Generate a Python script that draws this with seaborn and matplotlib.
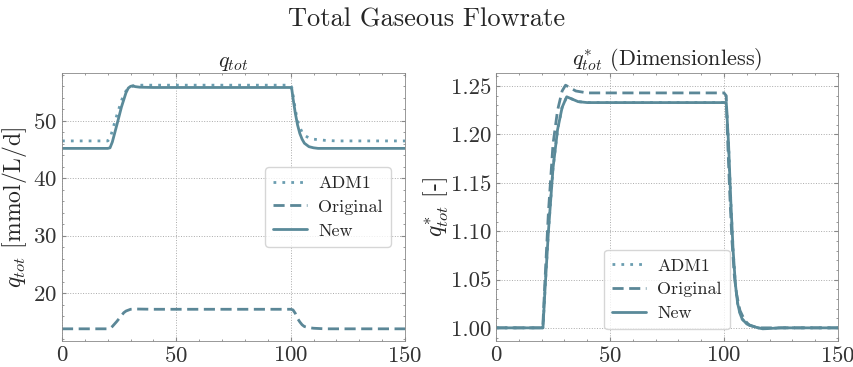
import numpy as np
import pandas as pd
import matplotlib
matplotlib.use("Agg")
import matplotlib.pyplot as plt
from matplotlib.ticker import AutoMinorLocator
import seaborn as sns

# ---------------- data ----------------
t_adm1 = [0, 20, 21, 22, 24, 26, 27, 28, 30, 32, 35, 40, 60, 100, 100.5, 101, 102, 103, 104, 105, 106, 108, 110, 115, 120, 150]
q_adm1 = [46.5, 46.5, 46.9, 48.3, 51.0, 53.5, 54.5, 55.2, 55.9, 56.15, 56.2, 56.2, 56.2, 56.2, 55.8, 54.6, 52.0, 50.0, 48.9, 48.0, 47.5, 47.0, 46.8, 46.6, 46.5, 46.5]

t_new = [0, 20, 21, 22, 24, 26, 28, 29, 30, 31, 32, 34, 40, 60, 100, 100.5, 101, 102, 103, 104, 105, 106, 108, 110, 112, 115, 120, 150]
q_new = [45.2, 45.2, 45.3, 46.3, 49.3, 52.4, 54.9, 55.7, 56.0, 56.1, 55.95, 55.85, 55.8, 55.8, 55.8, 55.5, 54.0, 51.4, 49.3, 47.8, 46.8, 46.1, 45.5, 45.3, 45.2, 45.2, 45.2, 45.2]

t_orig = [0, 20, 21, 22, 24, 26, 27, 28, 30, 32, 40, 60, 100, 101, 102, 103, 104, 105, 106, 108, 110, 115, 150]
q_orig = [13.8, 13.8, 13.85, 14.2, 15.1, 16.1, 16.6, 16.9, 17.2, 17.25, 17.2, 17.2, 17.2, 17.1, 16.5, 15.6, 15.0, 14.5, 14.2, 14.0, 13.9, 13.8, 13.8]

ts_new = [0, 20, 20.6, 21.5, 23, 25, 27, 29, 31, 33, 36, 40, 60, 100, 101, 102, 103, 104, 105, 106, 107, 108, 110, 112, 115, 117, 125, 150]
qs_new = [1.0, 1.0, 1.0, 1.04, 1.10, 1.165, 1.205, 1.228, 1.239, 1.237, 1.234, 1.233, 1.233, 1.233, 1.233, 1.19, 1.13, 1.08, 1.045, 1.025, 1.015, 1.009, 1.004, 1.002, 1.0, 0.999, 1.0, 1.0]

ts_adm1 = list(ts_new)
qs_adm1 = list(qs_new)

ts_orig = [0, 20, 20.5, 21.5, 23, 25, 27, 29, 30.5, 32, 35, 40, 60, 100, 101, 101.5, 102.5, 103.5, 104.5, 105.5, 107, 109, 111, 115, 150]
qs_orig = [1.0, 1.0, 1.0, 1.05, 1.12, 1.19, 1.225, 1.245, 1.251, 1.249, 1.245, 1.243, 1.243, 1.243, 1.24, 1.2, 1.14, 1.09, 1.055, 1.035, 1.018, 1.008, 1.003, 1.0, 1.0]

series_names = ["ADM1", "Original", "New"]
colors = {"ADM1": "#6a9db0", "Original": "#5b8797", "New": "#5a8a99"}
dashes = {"ADM1": (1, 2.2), "Original": (4, 2), "New": ""}

# ---------------- style ----------------
sns.set_style("ticks")
plt.rcParams.update({
    "font.family": ["cmr10", "DejaVu Serif"],
    "mathtext.fontset": "cm",
    "axes.formatter.use_mathtext": True,
    "axes.unicode_minus": False,
    "xtick.direction": "in",
    "ytick.direction": "in",
    "xtick.top": True,
    "ytick.right": True,
    "xtick.minor.visible": True,
    "ytick.minor.visible": True,
    "xtick.major.size": 3,
    "ytick.major.size": 3,
    "xtick.minor.size": 1.5,
    "ytick.minor.size": 1.5,
    "axes.edgecolor": "#888888",
    "axes.linewidth": 0.6,
    "xtick.color": "#888888",
    "ytick.color": "#888888",
    "xtick.labelcolor": "#333333",
    "ytick.labelcolor": "#333333",
})


def make_df(ta, qa, to, qo, tn, qn):
    frames = []
    for name, t, q in (("ADM1", ta, qa), ("Original", to, qo), ("New", tn, qn)):
        frames.append(pd.DataFrame({"t": t, "q": q, "Model": name}))
    return pd.concat(frames, ignore_index=True)


df_left = make_df(t_adm1, q_adm1, t_orig, q_orig, t_new, q_new)
df_right = make_df(ts_adm1, qs_adm1, ts_orig, qs_orig, ts_new, qs_new)

fig = plt.figure(figsize=(8.54, 3.67), dpi=100)
W, H = 854, 367
ax1 = fig.add_axes([62 / W, 1 - 341 / H, (405 - 62) / W, (341 - 73) / H])
ax2 = fig.add_axes([496 / W, 1 - 341 / H, (838 - 496) / W, (341 - 73) / H])

for ax, df in ((ax1, df_left), (ax2, df_right)):
    sns.lineplot(data=df, x="t", y="q", hue="Model", style="Model",
                 hue_order=series_names, style_order=series_names,
                 palette=colors, dashes=dashes, linewidth=2.0,
                 estimator=None, sort=False, ax=ax)
    ax.set_xlim(0, 150)
    ax.set_xticks([0, 50, 100, 150])
    ax.xaxis.set_minor_locator(AutoMinorLocator(5))
    ax.grid(True, which="major", color="#aaaaaa", linestyle=":", linewidth=0.7)
    ax.tick_params(labelsize=16.5)
    ax.set_xlabel("")
    for sp in ax.spines.values():
        sp.set_visible(True)

ax1.set_yticks([20, 30, 40, 50])
ax1.yaxis.set_minor_locator(AutoMinorLocator(5))
ax2.set_yticks([1.00, 1.05, 1.10, 1.15, 1.20, 1.25])
ax2.set_yticklabels(["1.00", "1.05", "1.10", "1.15", "1.20", "1.25"])
ax2.yaxis.set_minor_locator(AutoMinorLocator(5))

ax1.set_title(r"$q_{tot}$", fontsize=16, pad=2)
ax2.set_title(r"$q_{tot}^{*}$ (Dimensionless)", fontsize=16, pad=2)
ax1.set_ylabel(r"$q_{tot}$ [mmol/L/d]", fontsize=17, labelpad=3)
ax2.set_ylabel(r"$q_{tot}^{*}$ [-]", fontsize=17, labelpad=0)

for ax, loc, anchor in ((ax1, "center right", (0.985, 0.5)), (ax2, "lower center", (0.5, 0.01))):
    leg = ax.legend(loc=loc, bbox_to_anchor=anchor, fontsize=13, frameon=True,
                    fancybox=True, framealpha=0.8, edgecolor="#cccccc",
                    handlelength=1.9, handletextpad=0.6, borderpad=0.45, labelspacing=0.45)
    leg.set_title(None)

fig.suptitle("Total Gaseous Flowrate", fontsize=19, y=0.98)
fig.savefig("out.png", dpi=100)
